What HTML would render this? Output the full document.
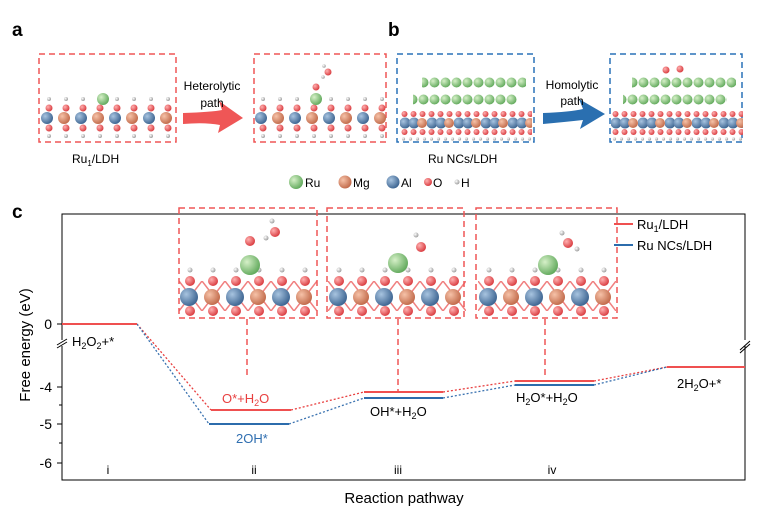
<!DOCTYPE html>
<html><head><meta charset="utf-8"><style>
html,body{margin:0;padding:0;background:#fff;}
svg{display:block;font-family:"Liberation Sans",Arial,sans-serif;}
</style></head><body>
<svg width="767" height="531" viewBox="0 0 767 531" xmlns="http://www.w3.org/2000/svg">
<defs>
<radialGradient id="gG" cx="35%" cy="35%" r="70%"><stop offset="0" stop-color="#d6f0c8"/><stop offset="1" stop-color="#5fa85a"/></radialGradient>
<radialGradient id="gB" cx="35%" cy="35%" r="70%"><stop offset="0" stop-color="#a8c4e0"/><stop offset="1" stop-color="#3a628f"/></radialGradient>
<radialGradient id="gM" cx="35%" cy="35%" r="70%"><stop offset="0" stop-color="#f6c2a8"/><stop offset="1" stop-color="#c06848"/></radialGradient>
<radialGradient id="gO" cx="35%" cy="35%" r="70%"><stop offset="0" stop-color="#ffb0b0"/><stop offset="1" stop-color="#d8383c"/></radialGradient>
<radialGradient id="gH" cx="35%" cy="35%" r="70%"><stop offset="0" stop-color="#fff"/><stop offset="1" stop-color="#999"/></radialGradient>
<pattern id="pBs" x="0" y="-7" width="34" height="14" patternUnits="userSpaceOnUse"><circle cx="6" cy="7" r="6" fill="url(#gB)"/><circle cx="23" cy="7" r="6" fill="url(#gM)"/></pattern>
<pattern id="pOs" x="0" y="-14" width="17" height="20" patternUnits="userSpaceOnUse"><circle cx="8" cy="4" r="3.5" fill="url(#gO)"/></pattern>
<pattern id="pHs" x="0" y="-22" width="17" height="37" patternUnits="userSpaceOnUse"><circle cx="8" cy="3" r="2" fill="url(#gH)"/></pattern>
<pattern id="pGs" x="0" y="77" width="11" height="17" patternUnits="userSpaceOnUse"><circle cx="5.5" cy="5.5" r="5" fill="url(#gG)"/></pattern>
<pattern id="pBn" x="0" y="-6" width="27" height="12" patternUnits="userSpaceOnUse"><circle cx="5" cy="6" r="5.5" fill="url(#gB)"/><circle cx="14" cy="6" r="5.5" fill="url(#gB)"/><circle cx="22" cy="6" r="5" fill="url(#gM)"/></pattern>
<pattern id="pOn" x="0" y="-13" width="9" height="18" patternUnits="userSpaceOnUse"><circle cx="4.5" cy="4" r="3" fill="url(#gO)"/></pattern>
<pattern id="pHn" x="0" y="13" width="7" height="6" patternUnits="userSpaceOnUse"><circle cx="3.5" cy="3" r="1.6" fill="url(#gH)"/></pattern>
<pattern id="pBi" x="0" y="-10" width="46" height="20" patternUnits="userSpaceOnUse"><circle cx="10" cy="10" r="9" fill="url(#gB)"/><circle cx="33" cy="10" r="8" fill="url(#gM)"/></pattern>
<pattern id="pOi" x="0" y="-22" width="23" height="30" patternUnits="userSpaceOnUse"><circle cx="11" cy="6" r="5" fill="url(#gO)"/></pattern>
<pattern id="pHi" x="0" y="-30" width="23" height="6" patternUnits="userSpaceOnUse"><circle cx="11" cy="3" r="2.5" fill="url(#gH)"/></pattern>
<pattern id="pBond" x="0" y="-16" width="23" height="30" patternUnits="userSpaceOnUse"><path d="M0 0 L11.5 15 L23 0 M0 30 L11.5 15 L23 30" stroke="#f08080" stroke-width="1.5" fill="none"/></pattern>
<g id="slabS">
<rect x="0" y="-14" width="134" height="8" fill="url(#pOs)"/>
<rect x="0" y="-7" width="134" height="14" fill="url(#pBs)"/>
<rect x="0" y="6" width="134" height="8" fill="url(#pOs)"/>
<rect x="0" y="-22" width="134" height="6" fill="url(#pHs)"/>
<rect x="0" y="15" width="134" height="6" fill="url(#pHs)"/>
</g>
<g id="slabN">
<rect x="0" y="-13" width="132" height="8" fill="url(#pOn)"/>
<rect x="0" y="-6" width="132" height="12" fill="url(#pBn)"/>
<rect x="0" y="5" width="132" height="8" fill="url(#pOn)"/>
<rect x="0" y="13" width="132" height="6" fill="url(#pHn)"/>
</g>
<g id="slabI">
<rect x="0" y="-16" width="138" height="30" fill="url(#pBond)"/>
<rect x="0" y="-30" width="138" height="6" fill="url(#pHi)"/>
<rect x="0" y="-22" width="138" height="12" fill="url(#pOi)"/>
<rect x="0" y="-10" width="138" height="20" fill="url(#pBi)"/>
<rect x="0" y="8" width="138" height="12" fill="url(#pOi)"/>
</g>
</defs>

<text x="12" y="36" font-size="19" font-weight="bold">a</text>
<text x="388" y="36" font-size="19" font-weight="bold">b</text>
<text x="12" y="218" font-size="19" font-weight="bold">c</text>

<rect x="39" y="54" width="137" height="88" fill="none" stroke="#ef5656" stroke-width="1.5" stroke-dasharray="6,4"/>
<use href="#slabS" x="41" y="118"/>
<circle cx="103" cy="99" r="6" fill="url(#gG)"/>
<rect x="254" y="54" width="132" height="88" fill="none" stroke="#ef5656" stroke-width="1.5" stroke-dasharray="6,4"/>
<use href="#slabS" x="255" y="118"/>
<circle cx="316" cy="99" r="6" fill="url(#gG)"/>
<circle cx="316" cy="87" r="3.5" fill="url(#gO)"/>
<circle cx="328" cy="72" r="3.5" fill="url(#gO)"/>
<circle cx="323" cy="77" r="1.8" fill="url(#gH)"/><circle cx="324" cy="66" r="1.8" fill="url(#gH)"/>
<path d="M183 113 Q212 112 222 110 L219 101 L243 118 L218 133 L220 125 Q205 122 183 124 Z" fill="#ef5656"/>
<text x="212" y="90" font-size="12" text-anchor="middle">Heterolytic</text>
<text x="212" y="107" font-size="12" text-anchor="middle">path</text>
<text x="72" y="163" font-size="12">Ru<tspan font-size="8" dy="3">1</tspan><tspan dy="-3">/LDH</tspan></text>

<rect x="397" y="54" width="137" height="88" fill="none" stroke="#2a72b8" stroke-width="1.5" stroke-dasharray="6,4"/>
<rect x="422" y="77" width="104" height="12" fill="url(#pGs)"/>
<rect x="413" y="94" width="104" height="12" fill="url(#pGs)"/>
<use href="#slabN" x="400" y="123"/>
<rect x="610" y="54" width="132" height="88" fill="none" stroke="#2a72b8" stroke-width="1.5" stroke-dasharray="6,4"/>
<rect x="632" y="77" width="104" height="12" fill="url(#pGs)"/>
<rect x="623" y="94" width="104" height="12" fill="url(#pGs)"/>
<use href="#slabN" x="611" y="123"/>
<circle cx="666" cy="70" r="3.5" fill="url(#gO)"/><circle cx="680" cy="69" r="3.5" fill="url(#gO)"/>
<path d="M543 113 Q570 112 583 109 L579 99 L605 114 L580 129 L583 120 Q565 122 543 124 Z" fill="#2a6fb0"/>
<text x="572" y="89" font-size="12" text-anchor="middle">Homolytic</text>
<text x="572" y="105" font-size="12" text-anchor="middle">path</text>
<text x="428" y="163" font-size="12">Ru NCs/LDH</text>

<circle cx="296" cy="182" r="7" fill="url(#gG)"/><text x="305" y="187" font-size="12">Ru</text>
<circle cx="345" cy="182" r="6.5" fill="url(#gM)"/><text x="353" y="187" font-size="12">Mg</text>
<circle cx="393" cy="182" r="6.5" fill="url(#gB)"/><text x="401" y="187" font-size="12">Al</text>
<circle cx="428" cy="182" r="4" fill="url(#gO)"/><text x="433" y="187" font-size="12">O</text>
<circle cx="457" cy="182" r="2.5" fill="url(#gH)"/><text x="461" y="187" font-size="12">H</text>

<rect x="62" y="214" width="683" height="266" fill="none" stroke="#000" stroke-width="1"/>
<line x1="62" y1="324" x2="57" y2="324" stroke="#000"/>
<line x1="62" y1="387" x2="57" y2="387" stroke="#000"/>
<line x1="62" y1="424" x2="57" y2="424" stroke="#000"/>
<line x1="62" y1="463" x2="57" y2="463" stroke="#000"/>
<line x1="62" y1="405" x2="59" y2="405" stroke="#000"/>
<line x1="62" y1="443" x2="59" y2="443" stroke="#000"/>
<rect x="57" y="340" width="10" height="6" fill="#fff"/>
<line x1="57" y1="345" x2="67" y2="339" stroke="#000"/><line x1="57" y1="348" x2="67" y2="342" stroke="#000"/>
<rect x="740" y="340" width="10" height="6" fill="#fff"/>
<line x1="740" y1="350" x2="750" y2="341" stroke="#000"/><line x1="740" y1="353" x2="750" y2="344" stroke="#000"/>
<text x="52" y="329" font-size="14" text-anchor="end">0</text>
<text x="52" y="392" font-size="14" text-anchor="end">-4</text>
<text x="52" y="429" font-size="14" text-anchor="end">-5</text>
<text x="52" y="468" font-size="14" text-anchor="end">-6</text>
<text transform="translate(30 345) rotate(-90)" font-size="15" text-anchor="middle">Free energy (eV)</text>
<text x="404" y="503" font-size="15" text-anchor="middle">Reaction pathway</text>
<text x="108" y="474" font-size="12" text-anchor="middle">i</text>
<text x="254" y="474" font-size="12" text-anchor="middle">ii</text>
<text x="398" y="474" font-size="12" text-anchor="middle">iii</text>
<text x="552" y="474" font-size="12" text-anchor="middle">iv</text>

<g fill="none" stroke-width="1.3" stroke-dasharray="2,2">
<polyline points="137,324 211,410" stroke="#e84040"/>
<polyline points="137,324 209,424" stroke="#3a72b0"/>
<polyline points="291,410 364,392" stroke="#e84040"/>
<polyline points="289,424 364,398" stroke="#3a72b0"/>
<polyline points="443,392 515,381" stroke="#e84040"/>
<polyline points="443,398 515,385" stroke="#3a72b0"/>
<polyline points="594,381 667,367" stroke="#e84040"/>
<polyline points="594,385 667,367" stroke="#3a72b0"/>
</g>
<g stroke-width="2">
<line x1="62" y1="324" x2="137" y2="324" stroke="#ef5050"/>
<line x1="211" y1="410" x2="291" y2="410" stroke="#ef5050"/>
<line x1="209" y1="424" x2="289" y2="424" stroke="#2c6cac"/>
<line x1="364" y1="392" x2="443" y2="392" stroke="#ef5050"/>
<line x1="364" y1="398" x2="443" y2="398" stroke="#2c6cac"/>
<line x1="515" y1="381" x2="594" y2="381" stroke="#ef5050"/>
<line x1="515" y1="385" x2="594" y2="385" stroke="#2c6cac"/>
<line x1="667" y1="367" x2="745" y2="367" stroke="#ef5050"/>
</g>
<text x="72" y="346" font-size="13">H<tspan font-size="9" dy="3">2</tspan><tspan dy="-3">O</tspan><tspan font-size="9" dy="3">2</tspan><tspan dy="-3">+*</tspan></text>
<text x="222" y="403" font-size="13" fill="#e84040">O*+H<tspan font-size="9" dy="3">2</tspan><tspan dy="-3">O</tspan></text>
<text x="236" y="443" font-size="13" fill="#2f6eb0">2OH*</text>
<text x="370" y="416" font-size="13">OH*+H<tspan font-size="9" dy="3">2</tspan><tspan dy="-3">O</tspan></text>
<text x="516" y="402" font-size="13">H<tspan font-size="9" dy="3">2</tspan><tspan dy="-3">O*+H</tspan><tspan font-size="9" dy="3">2</tspan><tspan dy="-3">O</tspan></text>
<text x="677" y="388" font-size="13">2H<tspan font-size="9" dy="3">2</tspan><tspan dy="-3">O+*</tspan></text>

<line x1="614" y1="224" x2="633" y2="224" stroke="#ef5050" stroke-width="2"/>
<text x="637" y="229" font-size="13">Ru<tspan font-size="9" dy="3">1</tspan><tspan dy="-3">/LDH</tspan></text>
<line x1="614" y1="245" x2="633" y2="245" stroke="#2c6cac" stroke-width="2"/>
<text x="637" y="250" font-size="13">Ru NCs/LDH</text>

<g>
<use href="#slabI" x="179" y="297"/>
<circle cx="250" cy="265" r="10" fill="url(#gG)"/>
<circle cx="250" cy="241" r="5" fill="url(#gO)"/>
<circle cx="275" cy="232" r="5" fill="url(#gO)"/>
<circle cx="266" cy="238" r="2.5" fill="url(#gH)"/><circle cx="272" cy="221" r="2.5" fill="url(#gH)"/>
<rect x="179" y="208" width="138" height="110" fill="none" stroke="#ef5656" stroke-width="1.5" stroke-dasharray="6,4"/>
</g>
<g>
<use href="#slabI" x="328" y="297"/>
<circle cx="398" cy="263" r="10" fill="url(#gG)"/>
<circle cx="421" cy="247" r="5" fill="url(#gO)"/>
<circle cx="416" cy="235" r="2.5" fill="url(#gH)"/>
<rect x="327" y="208" width="137" height="110" fill="none" stroke="#ef5656" stroke-width="1.5" stroke-dasharray="6,4"/>
</g>
<g>
<use href="#slabI" x="478" y="297"/>
<circle cx="548" cy="265" r="10" fill="url(#gG)"/>
<circle cx="568" cy="243" r="5" fill="url(#gO)"/>
<circle cx="562" cy="233" r="2.5" fill="url(#gH)"/><circle cx="577" cy="249" r="2.5" fill="url(#gH)"/>
<rect x="476" y="208" width="141" height="110" fill="none" stroke="#ef5656" stroke-width="1.5" stroke-dasharray="6,4"/>
</g>
<g stroke="#ef5656" stroke-width="1.5" stroke-dasharray="6,4">
<line x1="247" y1="319" x2="247" y2="378"/>
<line x1="398" y1="319" x2="398" y2="391"/>
<line x1="545" y1="319" x2="545" y2="379"/>
</g>
</svg>
</body></html>
